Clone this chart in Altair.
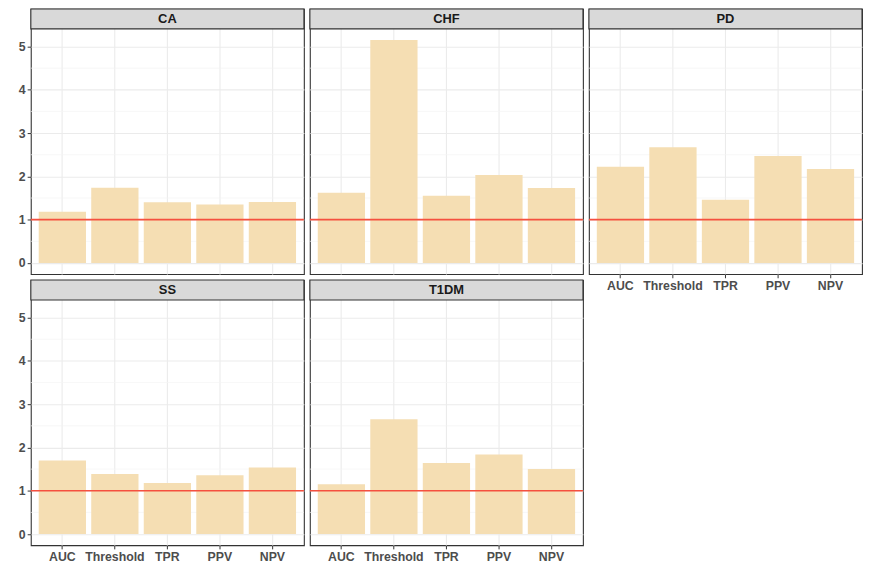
import altair as alt
import pandas as pd

diseases = ["CA", "CHF", "PD", "SS", "T1DM"]
metrics = ["AUC", "Threshold", "TPR", "PPV", "NPV"]
values = {
    "CA":   [1.18, 1.74, 1.40, 1.35, 1.41],
    "CHF":  [1.62, 5.15, 1.55, 2.03, 1.73],
    "PD":   [2.22, 2.67, 1.46, 2.47, 2.17],
    "SS":   [1.70, 1.39, 1.18, 1.36, 1.54],
    "T1DM": [1.15, 2.65, 1.64, 1.84, 1.50],
}
reference_line = [1.0]
y_ticks = [0, 1, 2, 3, 4, 5]
minor_grid = [0.5, 1.5, 2.5, 3.5, 4.5]

Y_MIN, Y_MAX = -0.2575, 5.4075
STRIP_TOP = 5.868
W, H = 275, 267
FONT = "Liberation Sans"
LABEL_SIZE = 12.4

yscale = alt.Scale(domain=[Y_MIN, STRIP_TOP], nice=False, zero=False)
xscale = alt.Scale(domain=metrics, paddingInner=0.1, paddingOuter=0.15)


def panel(name, show_x, show_y):
    df = pd.DataFrame({"metric": metrics, "value": values[name]})
    xaxis = alt.Axis(
        title=None, labels=show_x, ticks=show_x, domain=False, grid=True,
        gridColor="#EBEBEB", gridWidth=1.1, labelAngle=0,
        labelFont=FONT, labelFontSize=LABEL_SIZE, labelFontWeight="bold",
        labelColor="#4D4D4D", tickColor="#333333", tickSize=3.7, labelPadding=2,
    )
    yaxis = alt.Axis(
        title=None, values=y_ticks, labels=show_y, ticks=show_y, domain=False,
        grid=True, gridColor="#EBEBEB", gridWidth=1.1,
        labelFont=FONT, labelFontSize=LABEL_SIZE, labelFontWeight="bold",
        labelColor="#4D4D4D", tickColor="#333333", tickSize=3.7, labelPadding=2,
    )
    minor = alt.Chart(pd.DataFrame({"y": minor_grid})).mark_rule(
        color="#F3F3F3", strokeWidth=0.7
    ).encode(y=alt.Y("y:Q", scale=yscale, axis=yaxis))
    bars = alt.Chart(df).mark_bar(color="#F5DEB3").encode(
        x=alt.X("metric:N", sort=metrics, scale=xscale, axis=xaxis),
        y=alt.Y("value:Q", scale=yscale),
        y2=alt.datum(0),
    )
    hline = alt.Chart(pd.DataFrame({"y": reference_line})).mark_rule(
        color="#F5503F", strokeWidth=1.6
    ).encode(y=alt.Y("y:Q", scale=yscale))
    strip_df = pd.DataFrame({"lo": [Y_MAX], "hi": [STRIP_TOP],
                             "mid": [(Y_MAX + STRIP_TOP) / 2], "label": [name]})
    strip = alt.Chart(strip_df).mark_rect(
        fill="#D9D9D9", stroke="#333333", strokeWidth=1.1
    ).encode(y=alt.Y("lo:Q", scale=yscale), y2="hi:Q")
    strip_text = alt.Chart(strip_df).mark_text(
        font=FONT, fontSize=13, fontWeight="bold", color="#1A1A1A"
    ).encode(y=alt.Y("mid:Q", scale=yscale), text="label:N")
    return alt.layer(minor, bars, hline, strip, strip_text).properties(
        width=W, height=H,
        view=alt.ViewBackground(stroke="#333333", strokeWidth=1.1, fill="white"),
    )


panels = [
    panel("CA", False, True),
    panel("CHF", False, False),
    panel("PD", True, False),
    panel("SS", True, True),
    panel("T1DM", True, False),
]

chart = alt.concat(*panels, columns=3, spacing=6, bounds="flush").properties(
    padding={"left": 9, "top": -3, "right": 0, "bottom": 0},
    background="white",
)

chart.save("out.html", embed_options={"renderer": "svg", "actions": False})
